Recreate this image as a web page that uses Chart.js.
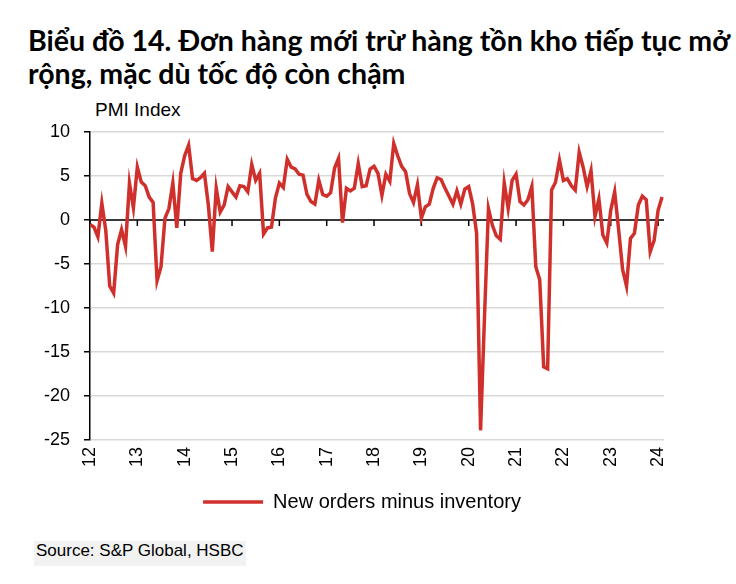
<!DOCTYPE html>
<html>
<head>
<meta charset="utf-8">
<script src="https://cdn.jsdelivr.net/npm/chart.js@4.4.0/dist/chart.umd.min.js"></script>
<style>
    body { margin: 0; width: 736px; height: 584px; background: #fff; position: relative; overflow: hidden; }
    #title { position: absolute; left: 28px; top: 24px; font: 700 28.5px Lato, sans-serif; line-height: 33px; color: #000; white-space: nowrap; }
    #unit { position: absolute; left: 95px; top: 99px; font: 19px "Liberation Sans", Arial, sans-serif; color: #000; }
    #source { position: absolute; left: 34px; top: 541px; height: 25px; line-height: 25px; padding: 0 2px; background: #f2f2f2; font: 17px "Liberation Sans", Arial, sans-serif; color: #000; }
    #chart { position: absolute; left: 0; top: 95px; }
</style>
</head>
<body>
<div id="title">Biểu đồ 14. Đơn hàng mới trừ hàng tồn kho tiếp tục mở<br>rộng, mặc dù tốc độ còn chậm</div>
<div id="unit">PMI Index</div>
<canvas id="chart" width="736" height="440"></canvas>
<div id="source">Source: S&amp;P Global, HSBC</div>
<script>
// Monthly series, Jan 2012 .. Feb 2024
const seriesName = 'New orders minus inventory';
const newOrdersMinusInventory = [
    -0.5, -0.8, -1.9, 1.9, -1.2, -7.5, -8.3, -2.8, -1.1, -3.0, 4.2, 1.4,
    6.0, 4.3, 3.9, 2.6, 2.0, -6.9, -5.3, 0.2, 1.3, 4.2, -0.9, 5.3,
    7.3, 8.5, 4.7, 4.5, 4.8, 5.3, 1.7, -3.6, 3.6, 0.9, 1.7, 3.8,
    3.2, 2.6, 3.9, 3.8, 3.2, 6.3, 4.5, 5.3, -1.6, -0.9, -0.8, 2.5,
    4.2, 3.7, 6.9, 6.0, 5.8, 5.2, 5.1, 2.9, 2.1, 1.8, 4.5, 2.9,
    2.7, 3.1, 5.9, 7.0, -0.3, 3.6, 3.3, 3.6, 6.4, 3.8, 3.9, 5.8,
    6.1, 5.3, 2.8, 5.2, 4.4, 8.7, 7.3, 6.1, 5.5, 3.0, 2.0, 4.0,
    0.2, 1.5, 1.8, 3.6, 4.8, 4.6, 3.6, 2.7, 1.8, 3.3, 1.8, 3.5,
    3.8, 1.8, -1.5, -23.9, -11.0, 1.3, -0.6, -1.8, -2.2, 4.2, 1.3, 4.5,
    5.2, 2.1, 1.7, 2.3, 3.8, -5.3, -6.8, -16.7, -16.9, 3.4, 4.3, 6.8,
    4.5, 4.7, 3.9, 3.4, 7.7, 6.0, 3.8, 5.6, 0.4, 2.4, -1.7, -2.6,
    1.1, 3.2, -1.1, -5.6, -7.5, -2.1, -1.5, 1.7, 2.7, 2.3, -3.6, -2.3,
    1.1, 2.6
];
const yearTicks = [0, 12, 24, 36, 48, 60, 72, 84, 96, 108, 120, 132, 144];
const yearLabels = ['12', '13', '14', '15', '16', '17', '18', '19', '20', '21', '22', '23', '24'];
const yTicks = [10, 5, 0, -5, -10, -15, -20, -25];

const RED = '#d0302c';
const FONT = '"Liberation Sans", Arial, sans-serif';

// black zero line with year tick marks hanging below it
const zeroAxis = {
    id: 'zeroAxis',
    beforeDatasetsDraw(chart) {
        const {ctx, chartArea, scales: {x, y}} = chart;
        const y0 = y.getPixelForValue(0);
        ctx.save();
        ctx.strokeStyle = '#000';
        ctx.lineWidth = 1.5;
        ctx.beginPath();
        ctx.moveTo(chartArea.left, y0);
        ctx.lineTo(chartArea.right, y0);
        yearTicks.forEach(t => {
            const px = x.getPixelForValue(t);
            ctx.moveTo(px, y0);
            ctx.lineTo(px, y0 + 6);
        });
        ctx.stroke();
        ctx.restore();
    }
};

// legend in the original sits a bit right of the canvas centre
const legendShift = {
    id: 'legendShift',
    afterLayout(chart) {
        chart.legend.left += 30;
        chart.legend.right += 30;
    }
};

new Chart(document.getElementById('chart'), {
    type: 'line',
    data: {
        datasets: [{
            label: seriesName,
            data: newOrdersMinusInventory.map((v, i) => ({x: i, y: v})),
            borderColor: RED,
            backgroundColor: RED,
            borderWidth: 3.5,
            pointRadius: 0,
            pointStyle: 'line',
            tension: 0,
            fill: false
        }]
    },
    options: {
        responsive: false,
        animation: false,
        layout: { padding: { top: 37, right: 72, left: 0, bottom: 13 } },
        plugins: {
            legend: {
                position: 'bottom',
                labels: {
                    usePointStyle: true,
                    pointStyleWidth: 60,
                    padding: 10,
                    color: '#000',
                    font: { family: FONT, size: 20 }
                }
            },
            tooltip: { enabled: false }
        },
        scales: {
            x: {
                type: 'linear',
                min: 0,
                max: 145.5,
                afterBuildTicks: s => { s.ticks = yearTicks.map(v => ({value: v})); },
                afterFit: s => { s.height = 42; },
                grid: { display: false, drawTicks: false },
                border: { display: false },
                ticks: {
                    minRotation: 90,
                    maxRotation: 90,
                    padding: 7,
                    color: '#000',
                    font: { family: FONT, size: 18 },
                    callback: v => yearLabels[yearTicks.indexOf(v)]
                }
            },
            y: {
                min: -25,
                max: 10,
                afterBuildTicks: s => { s.ticks = yTicks.map(v => ({value: v})); },
                afterFit: s => { s.width = 90; },
                grid: { color: '#d9d9d9', lineWidth: 1.5, tickColor: '#000', tickLength: 6, tickWidth: 1.5 },
                border: { display: true, color: '#000', width: 1.5 },
                ticks: {
                    padding: 14,
                    color: '#000',
                    font: { family: FONT, size: 18 }
                }
            }
        }
    },
    plugins: [zeroAxis, legendShift]
});
</script>
</body>
</html>
